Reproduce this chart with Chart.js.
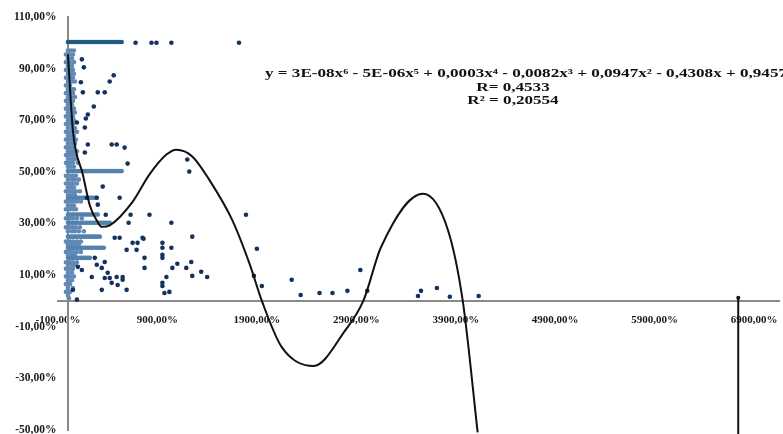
<!DOCTYPE html>
<html>
<head>
<meta charset="utf-8">
<script src="https://cdn.jsdelivr.net/npm/chart.js@4.4.1/dist/chart.umd.min.js"></script>
<style>
  html, body { margin: 0; padding: 0; background: #fff; }
  #wrap { width: 783px; height: 434px; }
</style>
</head>
<body>
<div id="wrap"><canvas id="c" width="783" height="434"></canvas></div>
<script>
const xTicks = [-100, 900, 1900, 2900, 3900, 4900, 5900, 6900];
const yTicks = [-50, -30, -10, 10, 30, 50, 70, 90, 110];

// polynomial trend line
const trendX = [0, 50, 150, 220, 300, 340, 420, 650, 820, 990, 1090, 1250, 1420, 1650, 1830, 1950, 2150, 2470, 2790, 2970, 3150, 3570, 3820, 3970, 4120];
const trendY = [95.5, 66, 49, 37, 30.5, 28.7, 29.3, 38.4, 49, 56.7, 58.6, 56, 47, 31.5, 14, 0, -17.9, -25.2, -11.3, 0, 21, 41.5, 27.6, 0, -50.9];

// far-right vertical segment
const spikeX = [6740, 6740];
const spikeY = [1.2, -52];

// dense horizontal runs of points (x values at one % level)
const band100 = [0, 20, 40, 60, 80, 100, 120, 140, 160, 180, 200, 220, 240, 260, 280, 300, 320, 340, 360, 380, 400, 420, 440, 460, 480, 500, 520, 540];
const band50 = [0, 20, 40, 60, 80, 100, 120, 140, 160, 180, 200, 220, 240, 260, 280, 300, 320, 340, 360, 380, 400, 420, 440, 460, 480, 500, 520, 540];
const band40 = [0, 20, 40, 60, 80, 100, 120, 140, 160, 180, 200, 220, 240, 260, 280];
const band33 = [0, 20, 40, 60, 80, 100, 120, 140, 160, 180, 200, 220, 240, 260, 280, 300];
const band30 = [0, 20, 40, 60, 80, 100, 120, 140, 160, 180, 200, 220, 240, 260, 280, 300, 320, 340, 360, 380, 400, 420];
const band25 = [0, 20, 40, 60, 80, 100, 120, 140, 160, 180, 200, 220, 240, 260, 280, 300, 320];
const band20 = [0, 20, 40, 60, 80, 100, 120, 140, 160, 180, 200, 220, 240, 260, 280, 300, 320, 340, 360];
const band17 = [0, 20, 40, 60, 80, 100, 120, 140, 160, 180, 200, 220];

// the thick column of points close to x = 0: [y, x, x, ...]
const columnRows = [
  [97, 0, 30, 60], [95.5, -20, 20, 50], [94, 0, 40], [92.5, -20, 20, 60], [91, 0, 40],
  [89.5, -20, 20, 50], [88, 0, 30, 60], [86.5, -20, 20, 50], [85, 0, 40, 70], [83.5, -20, 20],
  [82, 0, 40, 60], [80.5, -20, 20, 50], [79, 0, 30, 70], [77.5, -20, 20, 50], [76, 0, 40],
  [74.5, -20, 20, 60], [73, 0, 40, 70], [71.5, -20, 20, 50], [70, 0, 30, 60], [68.5, -20, 20, 50],
  [67, 0, 40, 70], [65.5, -20, 20, 50, 90], [64, 0, 30, 60], [62.5, -20, 20, 50, 80], [61, 0, 40, 70],
  [59.5, -20, 20, 50], [58, 0, 30, 60, 90], [56.5, -20, 20, 50, 80], [55, 0, 40, 70], [53.5, -20, 20, 50, 100],
  [52, 0, 30, 60], [48.5, -20, 20, 50, 80], [47, 0, 40, 70, 110], [45.5, -20, 20, 50, 90], [44, 0, 30, 60],
  [42.5, -20, 20, 50, 80, 120], [41, 0, 40, 70], [38.5, -20, 20, 50, 90, 130], [37, 0, 30, 60], [35.5, -20, 20, 50, 80],
  [32, -20, 20, 50, 90, 140], [28.5, -20, 20, 50, 80, 120], [27, 0, 40, 70, 110, 160], [23, -20, 20, 50, 90, 130],
  [22, 0, 40, 70, 110], [19, -20, 20, 50, 90, 130], [18, 0, 40, 70], [15, -20, 20, 50, 90], [14, 0, 40, 70],
  [12.5, -20, 20, 50], [11, 0, 40], [9.5, -20, 20, 60], [8, 0, 40], [6.5, -20, 20], [5, 0, 50],
  [3.5, -20, 20], [2, 0], [1, 10]
];

// isolated points
const scatterPts = [
  [680,100],[840,100],[890,100],[1040,100],[1720,100],
  [140,93.6],[160,90.5],[460,87.4],[420,85],[130,84.7],[300,80.8],[370,80.8],[150,80.8],
  [260,75.3],[200,72.2],[180,70.7],[90,69.1],[170,67.2],[200,60.6],[440,60.6],[490,60.6],
  [570,59.4],[170,57.5],[600,53.2],[1200,54.8],[1220,50.1],[350,44.3],[520,40],[290,40],
  [190,40],[300,37.3],[380,33.4],[630,33.4],[820,33.4],[1040,30.3],[1790,33.4],[610,30.3],
  [1250,24.9],[750,24.5],[470,24.5],[520,24.5],[760,24.1],[650,22.5],[700,22.5],[950,22.5],
  [590,19.8],[690,19.8],[950,20.6],[1040,20.6],[770,16.7],[950,17.9],[950,16.7],[1050,12.8],
  [1240,15.1],[1100,14.4],[1190,12.8],[770,12.8],[1340,11.3],[1250,9.7],[1400,9.3],[990,9.3],
  [950,7],[950,5.8],[970,3.1],[1020,3.5],[550,9.3],[550,8.2],[590,4.3],[440,7],[340,4.3],
  [490,9.3],[500,6.2],[420,8.9],[370,8.9],[240,9.3],[50,4.3],[90,0.5],[290,14],[340,12.8],
  [270,16.7],[370,15.1],[400,10.9],[140,12],[100,13.2],
  [1900,20.2],[1870,9.7],[1950,5.8],[2250,8.2],[2340,2.3],[2530,3.1],[2660,3.1],[2810,3.9],
  [2940,12],[3010,3.9],[3520,1.9],[3550,3.9],[3710,5],[3840,1.6],[4130,1.9]
];

const eqLines = [
  'y = 3E-08x\u2076 - 5E-06x\u2075 + 0,0003x\u2074 - 0,0082x\u00b3 + 0,0947x\u00b2 - 0,4308x + 0,9457',
  'R= 0,4533',
  'R\u00b2 = 0,20554'
];

function fmtPct(v) {
  return v.toFixed(2).replace('.', ',') + '%';
}

function pairs(xs, ys) {
  return xs.map((x, i) => ({x, y: ys[i]}));
}

function band(xs, level) {
  return xs.map(x => ({x, y: level}));
}

// axes sit inside the plot, so they must not eat layout space
function noSpace(s) {
  s.width = s.isHorizontal() ? s.width : 0;
  s.height = s.isHorizontal() ? 0 : s.height;
  s.paddingTop = 0; s.paddingBottom = 0; s.paddingLeft = 0; s.paddingRight = 0;
}

const serif = 'Liberation Serif';

const equationPlugin = {
  id: 'equation',
  afterDraw(chart) {
    const ctx = chart.ctx;
    ctx.save();
    ctx.fillStyle = '#111';
    ctx.textBaseline = 'middle';
    ctx.font = 'bold 12px "' + serif + '"';
    const w = ctx.measureText(eqLines[0]).width;
    const sx = 522 / w;
    // first line runs off the right edge like in the original
    ctx.save();
    ctx.translate(265, 74);
    ctx.scale(sx, 1);
    ctx.textAlign = 'left';
    ctx.fillText(eqLines[0], 0, 0);
    ctx.restore();
    [[eqLines[1], 88], [eqLines[2], 101]].forEach(([t, y]) => {
      ctx.save();
      ctx.translate(513, y);
      ctx.scale(sx, 1);
      ctx.textAlign = 'center';
      ctx.fillText(t, 0, 0);
      ctx.restore();
    });
    ctx.restore();
  }
};

const dot = {showLine: false, pointRadius: 2.3, pointBorderWidth: 0, pointHoverRadius: 2.3};
const columnPts = columnRows.flatMap(r => r.slice(1).map(x => ({x, y: r[0]})));

new Chart(document.getElementById('c'), {
  type: 'scatter',
  data: {
    datasets: [
      { label: 'trend', data: pairs(trendX, trendY), showLine: true, borderColor: '#111', borderWidth: 2,
        pointRadius: 0, cubicInterpolationMode: 'monotone', clip: false },
      { label: 'spike', data: pairs(spikeX, spikeY), showLine: true, borderColor: '#111', borderWidth: 2,
        pointRadius: [2, 0], pointBackgroundColor: '#111', pointBorderWidth: 0, clip: false },
      { label: 'points', data: scatterPts.map(p => ({x: p[0], y: p[1]})), backgroundColor: '#13325e', ...dot },
      { label: 'bands', data: [].concat(band(band50, 50.3), band(band40, 40), band(band33, 33.5),
          band(band30, 30.3), band(band25, 24.9), band(band20, 20.6), band(band17, 16.7)),
        backgroundColor: '#5482ae', ...dot },
      { label: 'column', data: columnPts, backgroundColor: '#6189b5', ...dot },
      { label: 'top', data: band(band100, 100.3), backgroundColor: '#1f5a80', ...dot }
    ]
  },
  options: {
    responsive: false,
    animation: false,
    layout: { padding: { left: 58, top: 17, right: -3, bottom: 3 } },
    plugins: { legend: { display: false }, tooltip: { enabled: false } },
    scales: {
      x: {
        type: 'linear', min: -100, max: 7150, position: { y: 0 },
        afterBuildTicks: s => { s.ticks = xTicks.map(v => ({value: v})); },
        afterFit: noSpace,
        grid: { display: false },
        border: { display: true, color: '#8a8a8a', width: 2 },
        ticks: { autoSkip: false, maxRotation: 0, padding: 5, color: '#1a1a1a',
          font: { family: serif, size: 11, weight: 'bold' }, callback: v => fmtPct(v) }
      },
      y: {
        type: 'linear', min: -50, max: 110, position: { x: 0 },
        afterBuildTicks: s => { s.ticks = yTicks.map(v => ({value: v})); },
        afterFit: noSpace,
        grid: { display: false },
        border: { display: true, color: '#8a8a8a', width: 2 },
        // trailing spaces keep the labels off the axis line
        ticks: { autoSkip: false, color: '#1a1a1a',
          font: { family: serif, size: 11.5, weight: 'bold' }, callback: v => fmtPct(v) + '    ' }
      }
    }
  },
  plugins: [equationPlugin]
});
</script>
</body>
</html>
